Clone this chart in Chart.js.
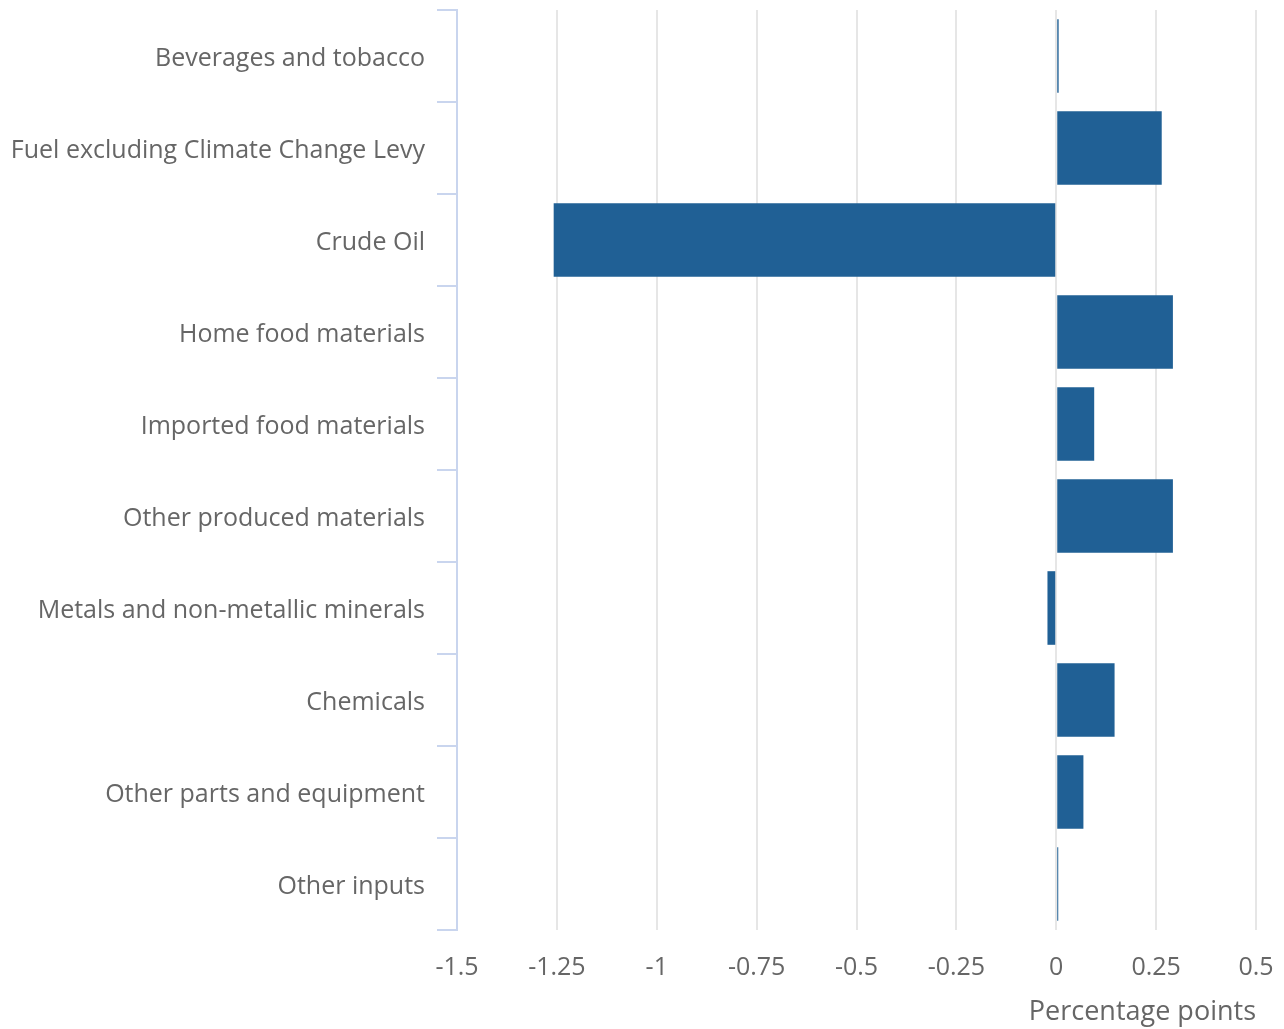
<!DOCTYPE html>
<html>
<head>
<meta charset="utf-8">
<script src="https://cdn.jsdelivr.net/npm/chart.js@4"></script>
<style>
  html, body { margin: 0; padding: 0; background: #fff; }
  #wrap { width: 1284px; height: 1029px; }
</style>
</head>
<body>
<div id="wrap"><canvas id="contribChart" width="1284" height="1029"></canvas></div>
<script>
const categories = [
    'Beverages and tobacco',
    'Fuel excluding Climate Change Levy',
    'Crude Oil',
    'Home food materials',
    'Imported food materials',
    'Other produced materials',
    'Metals and non-metallic minerals',
    'Chemicals',
    'Other parts and equipment',
    'Other inputs'
];
const contributions = [0.006, 0.264, -1.258, 0.292, 0.095, 0.292, -0.022, 0.146, 0.068, 0.005];
const xTicks = [-1.5, -1.25, -1, -0.75, -0.5, -0.25, 0, 0.25, 0.5];

const ctx = document.getElementById('contribChart');

new Chart(ctx, {
    type: 'bar',
    data: {
        labels: categories,
        datasets: [{
            label: 'Contribution',
            data: contributions,
            backgroundColor: '#206095',
            barPercentage: 0.8,
            categoryPercentage: 1
        }]
    },
    options: {
        indexAxis: 'y',
        responsive: false,
        animation: false,
        layout: { padding: { top: 10, right: 28, bottom: 0, left: 0 } },
        plugins: {
            legend: { display: false },
            tooltip: { enabled: false }
        },
        scales: {
            x: {
                min: -1.5,
                max: 0.5,
                afterBuildTicks: (scale) => {
                    scale.ticks = xTicks.map(v => ({ value: v }));
                },
                afterFit: (scale) => {
                    scale.height = 99;
                    scale.paddingLeft = 0;
                    scale.paddingRight = 0;
                },
                grid: {
                    color: '#e6e6e6',
                    lineWidth: 2,
                    drawTicks: false
                },
                border: { display: false },
                ticks: {
                    color: '#666',
                    padding: 23,
                    font: { family: 'Open Sans', size: 25 },
                    callback: (value) => String(value)
                },
                title: {
                    display: true,
                    text: 'Percentage points',
                    align: 'end',
                    color: '#666',
                    font: { family: 'Open Sans', size: 27 },
                    padding: { top: 4, bottom: 0 }
                }
            },
            y: {
                afterFit: (scale) => {
                    scale.width = 457;
                    scale.paddingTop = 0;
                    scale.paddingBottom = 0;
                },
                grid: {
                    drawOnChartArea: false,
                    color: '#c9d5ee',
                    lineWidth: 2,
                    tickLength: 20
                },
                border: { color: '#c9d5ee', width: 2 },
                ticks: {
                    color: '#666',
                    padding: 12,
                    labelOffset: 3,
                    font: { family: 'Open Sans', size: 25 }
                }
            }
        }
    }
});
</script>
</body>
</html>
